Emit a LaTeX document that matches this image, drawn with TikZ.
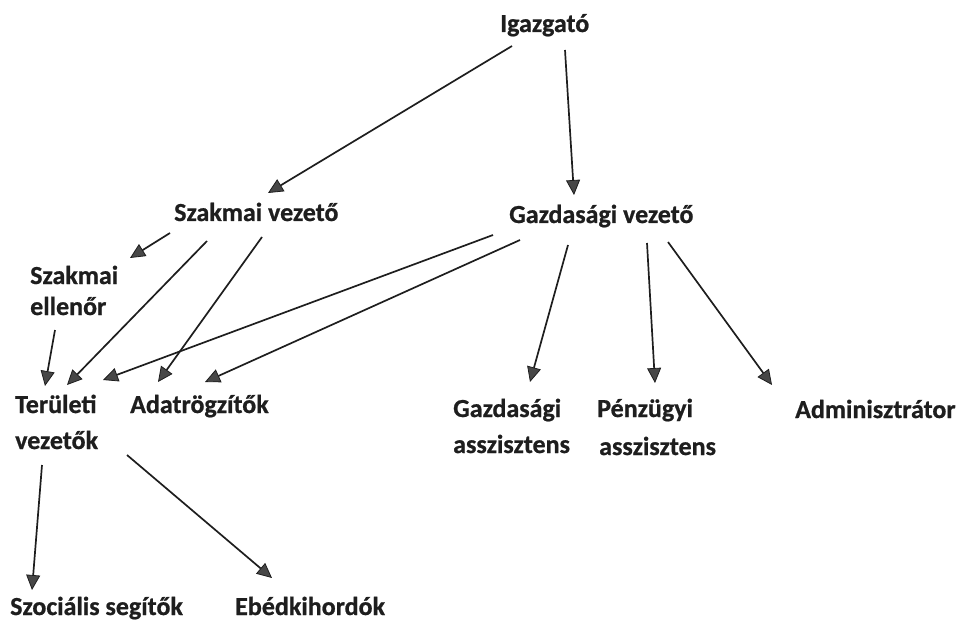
\documentclass[tikz,border=0pt]{standalone}
\usepackage{fontspec}
\setmainfont{Carlito}[BoldFeatures={FakeBold=0.8}]
\usepackage{xcolor}
\usetikzlibrary{arrows.meta,calc}

\definecolor{inkgray}{HTML}{1E1E1E}
\definecolor{tipgray}{HTML}{474747}

\begin{document}
\begin{tikzpicture}[x=1pt,y=-1pt,
  lbl/.style={anchor=base west, inner sep=0pt, text=inkgray, align=left,
    font=\bfseries\fontsize{26}{31}\selectfont},
  arr/.style={line width=1.7pt, draw=inkgray,
    -{Triangle[length=15pt,width=14pt,line width=0.8pt,fill=tipgray]}}]

\useasboundingbox (0,0) rectangle (960,620);

% (two-line labels sit on the baseline of their last line)
\node[lbl] (igaz) at (500,32) {Igazgat\'o};
\node[lbl] (szv) at (174,221) {Szakmai vezet\H{o}};
\node[lbl] (gzv) at (509,223) {Gazdas\'agi vezet\H{o}};
\node[lbl] (szell) at (30,315) {Szakmai\\ellen\H{o}r};
\node[lbl] (ter) at (15,449) {Ter\"uleti\\[5pt]vezet\H{o}k};
\node[lbl] (adat) at (130,413) {Adatr\"ogz\'it\H{o}k};
\node[lbl] (gasz) at (453,453) {Gazdas\'agi\\[5pt]asszisztens};
\node[lbl] (penz) at (597,455) {P\'enz\"ugyi\\[7pt]\hspace{2pt}asszisztens};
\node[lbl] (admin) at (795,418) {Adminisztr\'ator};
\node[lbl] (szoc) at (10,615) {Szoci\'alis seg\'it\H{o}k};
\node[lbl] (ebed) at (235,615) {Eb\'edkihord\'ok};

% igazgato
\draw[arr] ($(igaz.base west)+(12,14)$) -- ($(szv.base west)+(94,-28)$);
\draw[arr] ($(igaz.base west)+(65,18)$) -- ($(gzv.base west)+(65,-28)$);

% szakmai vezeto
\draw[arr] ($(szv.base west)+(-4,12)$) -- ($(szell.base west)+(100,-57)$);
\draw[arr] ($(szv.base west)+(33,20)$) -- ($(ter.base west)+(52,-64)$);
\draw[arr] ($(szv.base west)+(88,16)$) -- ($(adat.base west)+(28,-31)$);
\draw[arr] ($(szell.base west)+(25,15)$) -- ($(ter.base west)+(30,-63)$);

% gazdasagi vezeto
\draw[arr] ($(gzv.base west)+(-16,12)$) -- ($(ter.base west)+(88,-69)$);
\draw[arr] ($(gzv.base west)+(11,17)$) -- ($(adat.base west)+(75,-31)$);
\draw[arr] ($(gzv.base west)+(59,22)$) -- ($(gasz.base west)+(77,-71)$);
\draw[arr] ($(gzv.base west)+(138,20)$) -- ($(penz.base west)+(58,-72)$);
\draw[arr] ($(gzv.base west)+(159,19)$) -- ($(admin.base west)+(-23,-33)$);

% teruleti vezetok
\draw[arr] ($(ter.base west)+(27,16)$) -- ($(szoc.base west)+(22,-25)$);
\draw[arr] ($(ter.base west)+(112,6)$) -- ($(ebed.base west)+(37,-37)$);

\end{tikzpicture}
\end{document}
